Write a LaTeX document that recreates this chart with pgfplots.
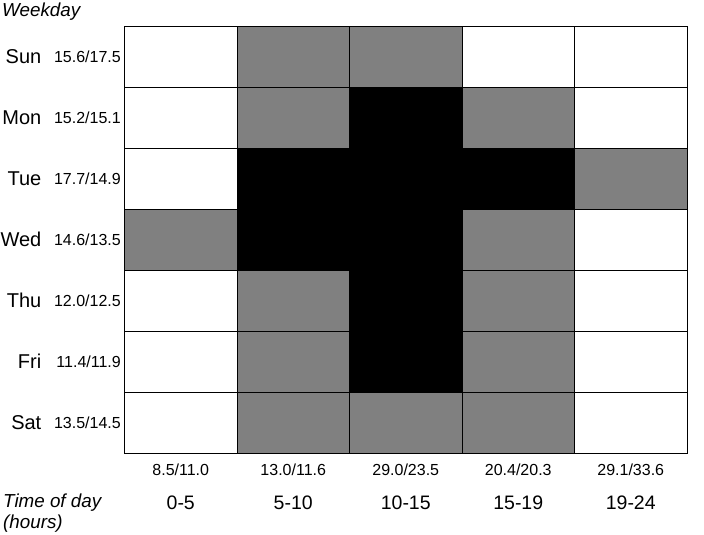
\documentclass[border=0pt]{standalone}
\usepackage{fontspec}
\setmainfont{Liberation Sans}
\usepackage{pgfplots}
\pgfplotsset{compat=1.18}

\newcommand{\dayf}{\fontsize{20bp}{23bp}\selectfont}
\newcommand{\bigf}{\fontsize{19.5bp}{22bp}\selectfont}
\newcommand{\smlf}{\fontsize{16bp}{18bp}\selectfont}
\newcommand{\itf}{\fontsize{18.8bp}{21bp}\selectfont\itshape}

\begin{document}
\begin{tikzpicture}
\begin{axis}[
  name=grid,
  scale only axis, width=562.5bp, height=427bp,
  xmin=-0.5, xmax=4.5, ymin=-0.5, ymax=6.5, y dir=reverse,
  xtick=\empty, ytick=\empty,
  axis line style={black, line width=0.6bp},
  colormap={levels}{rgb255=(255,255,255) rgb255=(128,128,128) rgb255=(0,0,0)},
  colormap access=direct,
]
% 0 = white, 1 = gray, 2 = black; rows Sun..Sat, columns 0-5 .. 19-24
\addplot[matrix plot*, point meta=explicit, mesh/cols=5, draw=black, line width=0.6bp]
  table[meta=c] {
x y c
0 0 0
1 0 1
2 0 1
3 0 0
4 0 0
0 1 0
1 1 1
2 1 2
3 1 1
4 1 0
0 2 0
1 2 2
2 2 2
3 2 2
4 2 1
0 3 1
1 3 2
2 3 2
3 3 1
4 3 0
0 4 0
1 4 1
2 4 2
3 4 1
4 4 0
0 5 0
1 5 1
2 5 2
3 5 1
4 5 0
0 6 0
1 6 1
2 6 1
3 6 1
4 6 0
};
\end{axis}

% row labels
\foreach \d [count=\j from 0] in {Sun, Mon, Tue, Wed, Thu, Fri, Sat} {
  \path (grid.south west) ++(-83bp, {(427-(\j+0.5)*61)*1bp}) node[anchor=east, inner sep=0pt] {\dayf\d};
}
\foreach \v [count=\j from 0] in {15.6/17.5, 15.2/15.1, 17.7/14.9, 14.6/13.5, 12.0/12.5, 11.4/11.9, 13.5/14.5} {
  \path (grid.south west) ++(-3.5bp, {(427-(\j+0.5)*61)*1bp}) node[anchor=east, inner sep=0pt] {\smlf\v};
}
% column labels
\foreach \v [count=\i from 0] in {8.5/11.0, 13.0/11.6, 29.0/23.5, 20.4/20.3, 29.1/33.6} {
  \path (grid.south west) ++({(\i+0.5)*112.5bp}, -17bp) node[inner sep=0pt] {\smlf\v};
}
\foreach \h [count=\i from 0] in {0-5, 5-10, 10-15, 15-19, 19-24} {
  \path (grid.south west) ++({(\i+0.5)*112.5bp}, -50bp) node[inner sep=0pt] {\bigf\h};
}
\path (grid.south west) ++(-124.5bp, 427bp) ++(2bp, 14bp) node[anchor=west, inner sep=0pt] {\itf Weekday};
\path (grid.south west) ++(-124.5bp, 0bp) ++(3bp, -50bp) node[anchor=west, inner sep=0pt] {\itf Time of day};
\path (grid.south west) ++(-124.5bp, 0bp) ++(3bp, -71bp) node[anchor=west, inner sep=0pt] {\itf (hours)};

\pgfresetboundingbox
\path[use as bounding box] (grid.south west) ++(-124.5bp,-82bp) rectangle ++(704bp,535bp);
\end{tikzpicture}
\end{document}
